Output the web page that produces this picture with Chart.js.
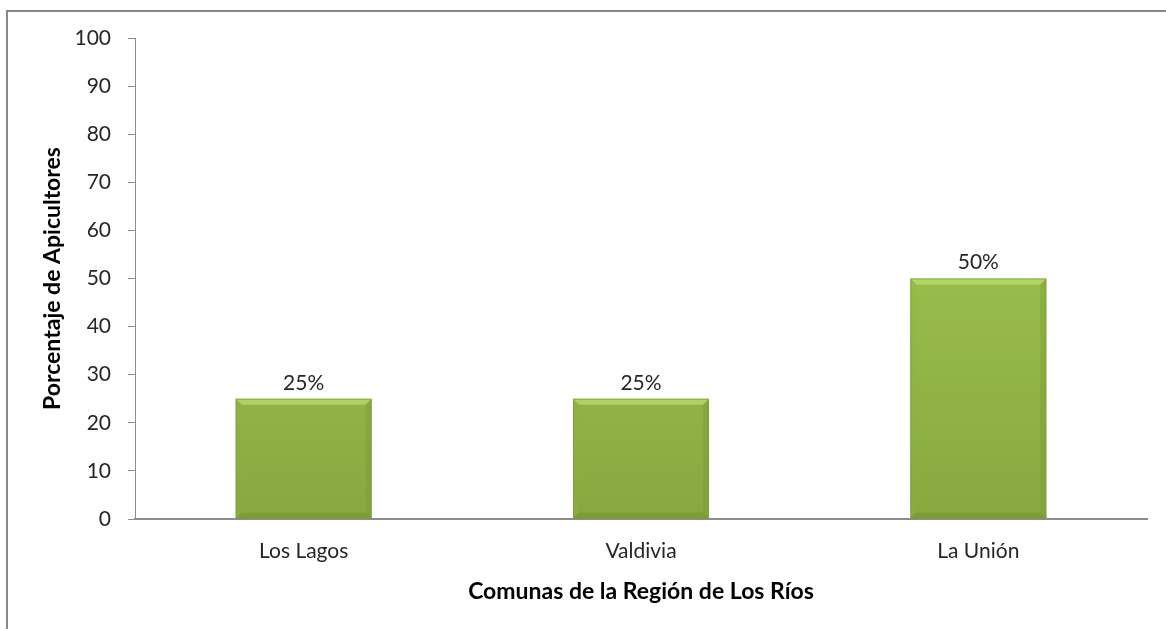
<!DOCTYPE html>
<html><head><meta charset="utf-8">
<script src="https://cdn.jsdelivr.net/npm/chart.js@4"></script>
<style>html,body{margin:0;padding:0;background:#fff;}#wrap{width:1166px;height:629px;position:relative;}</style>
</head><body><div id="wrap"><canvas id="c" width="1166" height="629"></canvas></div>
<script>
const categories = ["Los Lagos", "Valdivia", "La Unión"];
const percentages = [25, 25, 50];
const yTicks = [0, 10, 20, 30, 40, 50, 60, 70, 80, 90, 100];
const yTitle = "Porcentaje de Apicultores";
const xTitle = "Comunas de la Región de Los Ríos";

const FONT = "Lato, 'Open Sans', sans-serif";
const AXIS = "#8c8c8c";

const frame = {
  id: 'frame',
  beforeDraw(chart) {
    const ctx = chart.ctx;
    ctx.save();
    ctx.fillStyle = '#fff';
    ctx.fillRect(0, 0, chart.width, chart.height);
    ctx.strokeStyle = '#888';
    ctx.lineWidth = 2;
    ctx.beginPath();
    ctx.moveTo(7, chart.height);
    ctx.lineTo(7, 11);
    ctx.lineTo(chart.width, 11);
    ctx.stroke();
    ctx.restore();
  }
};

const bevel = {
  id: 'bevel',
  afterDatasetsDraw(chart) {
    const ctx = chart.ctx;
    const meta = chart.getDatasetMeta(0);
    meta.data.forEach((bar, i) => {
      const l = bar.x - bar.width / 2, r = bar.x + bar.width / 2;
      const t = bar.y, b = bar.base;
      const s = 6;
      ctx.save();
      ctx.fillStyle = 'rgba(200,235,130,0.55)';
      ctx.beginPath();
      ctx.moveTo(l, t); ctx.lineTo(r, t); ctx.lineTo(r - s, t + s); ctx.lineTo(l + s, t + s); ctx.closePath(); ctx.fill();
      ctx.fillStyle = 'rgba(140,180,60,0.25)';
      ctx.beginPath();
      ctx.moveTo(l, t); ctx.lineTo(l + s, t + s); ctx.lineTo(l + s, b - s); ctx.lineTo(l, b); ctx.closePath(); ctx.fill();
      ctx.fillStyle = 'rgba(110,150,45,0.3)';
      ctx.beginPath();
      ctx.moveTo(r, t); ctx.lineTo(r - s, t + s); ctx.lineTo(r - s, b - s); ctx.lineTo(r, b); ctx.closePath(); ctx.fill();
      ctx.fillStyle = 'rgba(100,135,40,0.35)';
      ctx.beginPath();
      ctx.moveTo(l, b); ctx.lineTo(l + s, b - s); ctx.lineTo(r - s, b - s); ctx.lineTo(r, b); ctx.closePath(); ctx.fill();
      ctx.strokeStyle = 'rgba(125,155,60,0.7)';
      ctx.lineWidth = 1;
      ctx.strokeRect(l + 0.5, t + 0.5, bar.width - 1, b - t - 1);
      ctx.fillStyle = '#262626';
      ctx.font = "21px " + FONT;
      ctx.textAlign = 'center';
      ctx.textBaseline = 'middle';
      ctx.fillText(percentages[i] + '%', bar.x, t - 16);
      ctx.restore();
    });
  }
};

new Chart(document.getElementById('c'), {
  type: 'bar',
  data: {
    labels: categories,
    datasets: [{
      data: percentages,
      backgroundColor(ctx) {
        const ca = ctx.chart.chartArea;
        if (!ca) return '#9bc24e';
        const el = ctx.element;
        const y0 = el && isFinite(el.y) ? el.y : ca.top;
        const y1 = el && isFinite(el.base) ? el.base : ca.bottom;
        const g = ctx.chart.ctx.createLinearGradient(0, y0, 0, y1);
        g.addColorStop(0, '#a9d156');
        g.addColorStop(1, '#88a840');
        return g;
      },
      borderWidth: 0,
      categoryPercentage: 1,
      barPercentage: 0.403
    }]
  },
  options: {
    responsive: false,
    animation: false,
    devicePixelRatio: 1,
    layout: { padding: { top: 38, right: 19, bottom: 0, left: 0 } },
    plugins: { legend: { display: false }, tooltip: { enabled: false } },
    scales: {
      x: {
        afterFit(s) { s.height = 110; },
        grid: { display: false, drawTicks: false },
        border: { display: true, color: AXIS, width: 2 },
        ticks: { color: '#262626', font: { family: FONT, size: 21 }, padding: 20 },
        title: { display: true, text: xTitle, color: '#000', font: { family: FONT, size: 23, weight: 'bold' }, padding: { top: 0, bottom: 24 } }
      },
      y: {
        min: 0, max: 100,
        afterFit(s) { s.width = 135; },
        afterBuildTicks(s) { s.ticks = yTicks.map(v => ({ value: v })); },
        grid: { drawOnChartArea: false, drawTicks: true, tickLength: 7, color: AXIS, lineWidth: 1 },
        border: { display: true, color: AXIS, width: 1 },
        ticks: { color: '#262626', font: { family: FONT, size: 21 }, padding: 17 },
        title: { display: true, text: yTitle, color: '#000', font: { family: FONT, size: 23, weight: 'bold' }, padding: { top: 39, bottom: 0 } }
      }
    }
  },
  plugins: [frame, bevel]
});
</script></body></html>
